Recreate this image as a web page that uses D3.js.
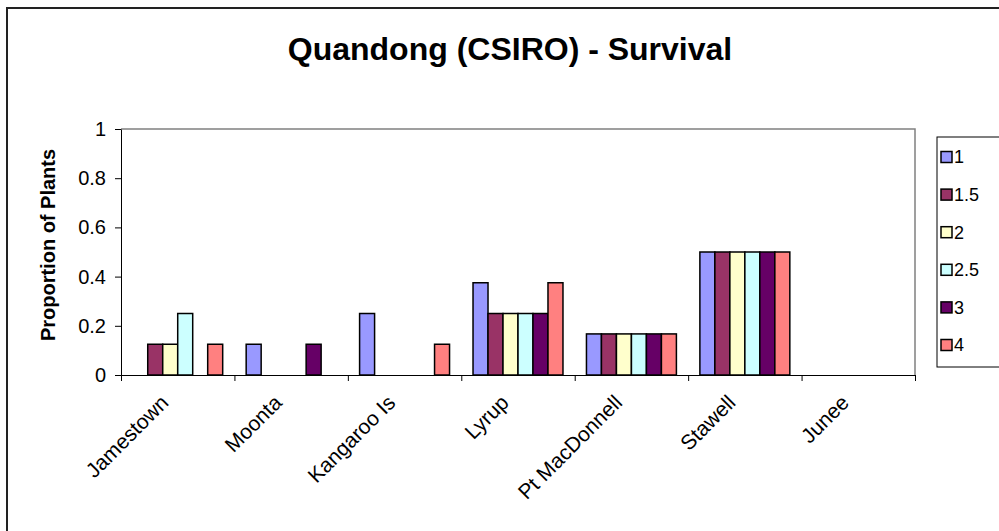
<!DOCTYPE html>
<html>
<head>
<meta charset="utf-8">
<script src="https://cdn.jsdelivr.net/npm/d3@7"></script>
<style>
  body { margin: 0; background: #fff; }
  svg { display: block; font-family: Arial, "Liberation Sans", sans-serif; }
</style>
</head>
<body>
<div id="vis"></div>
<script>
const FRAME_WIDTH = 999;
const FRAME_HEIGHT = 531;
const PLOT = {left: 121, right: 915, top: 129, bottom: 375};

// data
const sites = ["Jamestown", "Moonta", "Kangaroo Is", "Lyrup", "Pt MacDonnell", "Stawell", "Junee"];
const seriesNames = ["1", "1.5", "2", "2.5", "3", "4"];
const s1   = [0,     0.125, 0.25,  0.375, 0.167, 0.5, 0];
const s1_5 = [0.125, 0,     0,     0.25,  0.167, 0.5, 0];
const s2   = [0.125, 0,     0,     0.25,  0.167, 0.5, 0];
const s2_5 = [0.25,  0,     0,     0.25,  0.167, 0.5, 0];
const s3   = [0,     0.125, 0,     0.25,  0.167, 0.5, 0];
const s4   = [0.125, 0,     0.125, 0.375, 0.167, 0.5, 0];
const yTicks = [0, 0.2, 0.4, 0.6, 0.8, 1];
const colors = ["#9999FF", "#993366", "#FFFFCC", "#CCFFFF", "#660066", "#FF8080"];

const seriesValues = [s1, s1_5, s2, s2_5, s3, s4];

// flat table of bars
const bars = [];
seriesValues.forEach((vals, si) => {
  vals.forEach((v, ci) => {
    if (v > 0) bars.push({site: sites[ci], series: seriesNames[si], value: v});
  });
});

const FRAME = d3.select("#vis")
  .append("svg")
    .attr("width", FRAME_WIDTH)
    .attr("height", FRAME_HEIGHT);

// outer chart border (runs off the bottom/right edge)
FRAME.append("rect")
  .attr("x", 7).attr("y", 8)
  .attr("width", 1000).attr("height", 540)
  .attr("fill", "none")
  .attr("stroke", "#222")
  .attr("stroke-width", 2);

const X_SCALE = d3.scaleBand()
  .domain(sites)
  .range([PLOT.left, PLOT.right]);

const bw = X_SCALE.bandwidth();
const X_INNER = d3.scaleBand()
  .domain(seriesNames)
  .range([bw * 0.1035, bw * (1 - 0.1035)]);

const Y_SCALE = d3.scaleLinear()
  .domain([0, 1])
  .range([PLOT.bottom, PLOT.top]);

const COLOR = d3.scaleOrdinal().domain(seriesNames).range(colors);

// plot area frame (top + right grey)
FRAME.append("path")
  .attr("d", `M${PLOT.left},${PLOT.top}H${PLOT.right}V${PLOT.bottom}`)
  .attr("fill", "none")
  .attr("stroke", "#808080")
  .attr("stroke-width", 1.5);

// bars
FRAME.selectAll(".bar")
  .data(bars)
  .enter()
  .append("rect")
    .attr("class", "bar")
    .attr("x", d => X_SCALE(d.site) + X_INNER(d.series))
    .attr("y", d => Y_SCALE(d.value))
    .attr("width", X_INNER.bandwidth())
    .attr("height", d => Y_SCALE(0) - Y_SCALE(d.value))
    .attr("fill", d => COLOR(d.series))
    .attr("stroke", "#000")
    .attr("stroke-width", 1.5);

// y axis
const yAxis = FRAME.append("g")
  .attr("transform", `translate(${PLOT.left},0)`)
  .call(d3.axisLeft(Y_SCALE).tickValues(yTicks).tickFormat(d3.format("~g"))
          .tickSize(6).tickSizeOuter(0).tickPadding(9));
yAxis.selectAll("text")
  .attr("font-size", "20px")
  .attr("font-family", "Arial, 'Liberation Sans', sans-serif")
  .attr("fill", "#000");
yAxis.selectAll("line, path").attr("stroke", "#000");

// x axis: ticks sit on category boundaries
const X_EDGE = d3.scaleLinear().domain([0, sites.length]).range([PLOT.left, PLOT.right]);
const xAxis = FRAME.append("g")
  .attr("transform", `translate(0,${PLOT.bottom})`)
  .call(d3.axisBottom(X_EDGE).tickValues(d3.range(sites.length + 1))
          .tickFormat("").tickSize(6).tickSizeOuter(0));
xAxis.selectAll("line, path").attr("stroke", "#000");

// category labels
FRAME.selectAll(".xlab")
  .data(sites)
  .enter()
  .append("text")
    .attr("class", "xlab")
    .attr("transform", d => `translate(${X_SCALE(d) + bw / 2 - 8},${PLOT.bottom + 29}) rotate(-45)`)
    .attr("text-anchor", "end")
    .attr("font-size", "21px")
    .text(d => d);

// title
FRAME.append("text")
  .attr("x", 510).attr("y", 60)
  .attr("text-anchor", "middle")
  .attr("font-size", "32px")
  .attr("font-weight", "bold")
  .text("Quandong (CSIRO) - Survival");

// y label
FRAME.append("text")
  .attr("transform", "translate(55,245) rotate(-90)")
  .attr("text-anchor", "middle")
  .attr("font-size", "20px")
  .attr("font-weight", "bold")
  .text("Proportion of Plants");

// legend
FRAME.append("rect")
  .attr("x", 937).attr("y", 137)
  .attr("width", 100).attr("height", 230)
  .attr("fill", "#fff")
  .attr("stroke", "#000")
  .attr("stroke-width", 1);

const LEG = FRAME.selectAll(".leg")
  .data(seriesNames)
  .enter()
  .append("g")
    .attr("class", "leg")
    .attr("transform", (d, i) => `translate(941,${157 + i * 37.6})`);
LEG.append("rect")
  .attr("x", 0).attr("y", -5.5)
  .attr("width", 11).attr("height", 11)
  .attr("fill", d => COLOR(d))
  .attr("stroke", "#000")
  .attr("stroke-width", 1.5);
LEG.append("text")
  .attr("x", 13).attr("y", 0)
  .attr("dy", "0.36em")
  .attr("font-size", "18px")
  .text(d => d);
</script>
</body>
</html>
